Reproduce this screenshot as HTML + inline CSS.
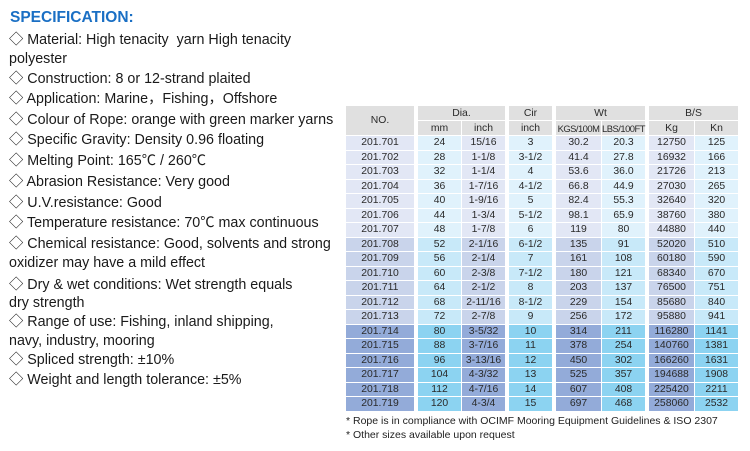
<!DOCTYPE html>
<html><head><meta charset="utf-8"><style>
body{margin:0;width:750px;height:451px;background:#fff;position:relative;overflow:hidden;font-family:"Liberation Sans","Noto Sans CJK SC",sans-serif;}
.l{position:absolute;left:9px;font-size:14.3px;color:#1a1a1a;white-space:nowrap;line-height:16px}
h1{position:absolute;left:10px;top:9px;margin:0;font-size:15.5px;color:#1a6fc4;font-weight:bold}
table{position:absolute;left:345px;top:105px;border-collapse:separate;border-spacing:1px;font-size:10.4px;color:#2a2a2a;text-align:center}
td{padding:0;height:13.5px;line-height:13px}
td.s{background:#fff!important;width:2px}
tr.h td{background:#e0e0e0;height:14px}
tr.a td{background:#e0f2fc} tr.a td.n,tr.a td.v{background:#e2e7f5}
tr.b td{background:#c8e9f9} tr.b td.n,tr.b td.v{background:#c9d4eb}
tr.c td{background:#8cd3f1} tr.c td.n,tr.c td.v{background:#93abd9}
.f{position:absolute;left:346px;font-size:10.5px;color:#222}
</style></head><body>
<h1>SPECIFICATION:</h1>
<div class="l" style="top:32px">◇ Material: High tenacity&nbsp; yarn High tenacity</div>
<div class="l" style="top:51px">polyester</div>
<div class="l" style="top:71px">◇ Construction: 8 or 12-strand plaited</div>
<div class="l" style="top:91px">◇ Application: Marine，Fishing，Offshore</div>
<div class="l" style="top:112px">◇ Colour of Rope: orange with green marker yarns</div>
<div class="l" style="top:132px">◇ Specific Gravity: Density 0.96 floating</div>
<div class="l" style="top:153px">◇ Melting Point: 165℃ / 260℃</div>
<div class="l" style="top:174px">◇ Abrasion Resistance: Very good</div>
<div class="l" style="top:195px">◇ U.V.resistance: Good</div>
<div class="l" style="top:215px">◇ Temperature resistance: 70℃ max continuous</div>
<div class="l" style="top:236px">◇ Chemical resistance: Good, solvents and strong</div>
<div class="l" style="top:255px">oxidizer may have a mild effect</div>
<div class="l" style="top:277px">◇ Dry &amp; wet conditions: Wet strength equals</div>
<div class="l" style="top:295px">dry strength</div>
<div class="l" style="top:314px">◇ Range of use: Fishing, inland shipping,</div>
<div class="l" style="top:333px">navy, industry, mooring</div>
<div class="l" style="top:352px">◇ Spliced strength: ±10%</div>
<div class="l" style="top:372px">◇ Weight and length tolerance: ±5%</div>
<table>
<colgroup><col style="width:68px"><col style="width:2px"><col style="width:43px"><col style="width:43px"><col style="width:2px"><col style="width:43px"><col style="width:2px"><col style="width:45px"><col style="width:43px"><col style="width:2px"><col style="width:45px"><col style="width:43px"></colgroup>
<tr class="h"><td rowspan="2" style="font-size:10.4px">NO.</td><td class="s" rowspan="2"></td><td colspan="2">Dia.</td><td class="s"></td><td>Cir</td><td class="s"></td><td colspan="2">Wt</td><td class="s"></td><td colspan="2">B/S</td></tr>
<tr class="h"><td>mm</td><td>inch</td><td class="s"></td><td>inch</td><td class="s"></td><td style="font-size:9.4px;letter-spacing:-0.5px">KGS/100M</td><td style="font-size:9.4px;letter-spacing:-0.5px">LBS/100FT</td><td class="s"></td><td>Kg</td><td>Kn</td></tr>
<tr class="a"><td class="n">201.701</td><td class="s"></td><td>24</td><td class="v">15/16</td><td class="s"></td><td>3</td><td class="s"></td><td class="v">30.2</td><td>20.3</td><td class="s"></td><td class="v">12750</td><td>125</td></tr>
<tr class="a"><td class="n">201.702</td><td class="s"></td><td>28</td><td class="v">1-1/8</td><td class="s"></td><td>3-1/2</td><td class="s"></td><td class="v">41.4</td><td>27.8</td><td class="s"></td><td class="v">16932</td><td>166</td></tr>
<tr class="a"><td class="n">201.703</td><td class="s"></td><td>32</td><td class="v">1-1/4</td><td class="s"></td><td>4</td><td class="s"></td><td class="v">53.6</td><td>36.0</td><td class="s"></td><td class="v">21726</td><td>213</td></tr>
<tr class="a"><td class="n">201.704</td><td class="s"></td><td>36</td><td class="v">1-7/16</td><td class="s"></td><td>4-1/2</td><td class="s"></td><td class="v">66.8</td><td>44.9</td><td class="s"></td><td class="v">27030</td><td>265</td></tr>
<tr class="a"><td class="n">201.705</td><td class="s"></td><td>40</td><td class="v">1-9/16</td><td class="s"></td><td>5</td><td class="s"></td><td class="v">82.4</td><td>55.3</td><td class="s"></td><td class="v">32640</td><td>320</td></tr>
<tr class="a"><td class="n">201.706</td><td class="s"></td><td>44</td><td class="v">1-3/4</td><td class="s"></td><td>5-1/2</td><td class="s"></td><td class="v">98.1</td><td>65.9</td><td class="s"></td><td class="v">38760</td><td>380</td></tr>
<tr class="a"><td class="n">201.707</td><td class="s"></td><td>48</td><td class="v">1-7/8</td><td class="s"></td><td>6</td><td class="s"></td><td class="v">119</td><td>80</td><td class="s"></td><td class="v">44880</td><td>440</td></tr>
<tr class="b"><td class="n">201.708</td><td class="s"></td><td>52</td><td class="v">2-1/16</td><td class="s"></td><td>6-1/2</td><td class="s"></td><td class="v">135</td><td>91</td><td class="s"></td><td class="v">52020</td><td>510</td></tr>
<tr class="b"><td class="n">201.709</td><td class="s"></td><td>56</td><td class="v">2-1/4</td><td class="s"></td><td>7</td><td class="s"></td><td class="v">161</td><td>108</td><td class="s"></td><td class="v">60180</td><td>590</td></tr>
<tr class="b"><td class="n">201.710</td><td class="s"></td><td>60</td><td class="v">2-3/8</td><td class="s"></td><td>7-1/2</td><td class="s"></td><td class="v">180</td><td>121</td><td class="s"></td><td class="v">68340</td><td>670</td></tr>
<tr class="b"><td class="n">201.711</td><td class="s"></td><td>64</td><td class="v">2-1/2</td><td class="s"></td><td>8</td><td class="s"></td><td class="v">203</td><td>137</td><td class="s"></td><td class="v">76500</td><td>751</td></tr>
<tr class="b"><td class="n">201.712</td><td class="s"></td><td>68</td><td class="v">2-11/16</td><td class="s"></td><td>8-1/2</td><td class="s"></td><td class="v">229</td><td>154</td><td class="s"></td><td class="v">85680</td><td>840</td></tr>
<tr class="b"><td class="n">201.713</td><td class="s"></td><td>72</td><td class="v">2-7/8</td><td class="s"></td><td>9</td><td class="s"></td><td class="v">256</td><td>172</td><td class="s"></td><td class="v">95880</td><td>941</td></tr>
<tr class="c"><td class="n">201.714</td><td class="s"></td><td>80</td><td class="v">3-5/32</td><td class="s"></td><td>10</td><td class="s"></td><td class="v">314</td><td>211</td><td class="s"></td><td class="v">116280</td><td>1141</td></tr>
<tr class="c"><td class="n">201.715</td><td class="s"></td><td>88</td><td class="v">3-7/16</td><td class="s"></td><td>11</td><td class="s"></td><td class="v">378</td><td>254</td><td class="s"></td><td class="v">140760</td><td>1381</td></tr>
<tr class="c"><td class="n">201.716</td><td class="s"></td><td>96</td><td class="v">3-13/16</td><td class="s"></td><td>12</td><td class="s"></td><td class="v">450</td><td>302</td><td class="s"></td><td class="v">166260</td><td>1631</td></tr>
<tr class="c"><td class="n">201.717</td><td class="s"></td><td>104</td><td class="v">4-3/32</td><td class="s"></td><td>13</td><td class="s"></td><td class="v">525</td><td>357</td><td class="s"></td><td class="v">194688</td><td>1908</td></tr>
<tr class="c"><td class="n">201.718</td><td class="s"></td><td>112</td><td class="v">4-7/16</td><td class="s"></td><td>14</td><td class="s"></td><td class="v">607</td><td>408</td><td class="s"></td><td class="v">225420</td><td>2211</td></tr>
<tr class="c"><td class="n">201.719</td><td class="s"></td><td>120</td><td class="v">4-3/4</td><td class="s"></td><td>15</td><td class="s"></td><td class="v">697</td><td>468</td><td class="s"></td><td class="v">258060</td><td>2532</td></tr>
</table>
<div class="f" style="top:415px">* Rope is in compliance with OCIMF Mooring Equipment Guidelines &amp; ISO 2307</div>
<div class="f" style="top:429px">* Other sizes available upon request</div>
</body></html>
